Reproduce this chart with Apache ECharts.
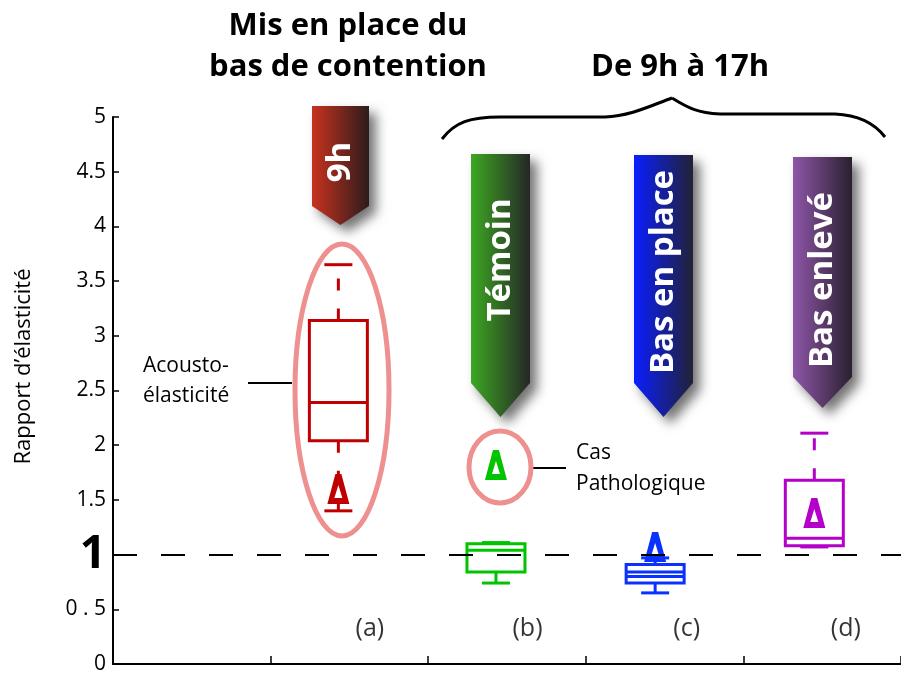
<!DOCTYPE html>
<html>
<head>
<meta charset="utf-8">
<script src="https://cdn.jsdelivr.net/npm/echarts@6/dist/echarts.min.js"></script>
<style>
html, body { margin: 0; padding: 0; background: #fff; }
#main { width: 901px; height: 675px; }
</style>
</head>
<body>
<div id="main"></div>
<script>
// donnees
var groupLabels = ['(a)', '(b)', '(c)', '(d)'];
var boxX = [1.43, 2.43, 3.44, 4.45];
var whiskerLow = [1.40, 0.74, 0.65, 1.07];
var q1 = [2.04, 0.84, 0.74, 1.08];
var median = [2.39, 1.04, 0.84, 1.15];
var q3 = [3.14, 1.10, 0.91, 1.68];
var whiskerHigh = [3.65, 1.11, 0.97, 2.11];
var innerLine = [null, null, 0.80, null];
var deltaX = [1.43, 2.43, 3.44, 4.45];
var deltaY = [1.60, 1.82, 1.07, 1.38];
var boxColors = ['#c00000', '#00c400', '#0a32ff', '#b400c8'];
var refLine = 1;

var FONT = 'Open Sans';

var boxData = boxX.map(function (x, i) {
    return [x, whiskerLow[i], q1[i], median[i], q3[i], whiskerHigh[i], innerLine[i] == null ? '-' : innerLine[i]];
});
var deltaData = deltaX.map(function (x, i) {
    return { value: [x, deltaY[i]], itemStyle: { color: boxColors[i] } };
});
var labelData = boxX.map(function (x, i) {
    return { value: [x + 0.2, 0.32], name: groupLabels[i] };
});

function renderBox(params, api) {
    var i = params.dataIndex;
    var c = boxColors[i];
    var x = api.value(0);
    var cx = api.coord([x, 0])[0];
    var y = function (k) { return api.coord([x, api.value(k)])[1]; };
    var yLow = y(1), yQ1 = y(2), yMed = y(3), yQ3 = y(4), yHigh = y(5);
    var half = 29, cap = 14;
    var solid = { stroke: c, lineWidth: 3, fill: null };
    var dashed = { stroke: c, lineWidth: 3, lineDash: [12, 18], fill: null };
    var children = [
        { type: 'line', shape: { x1: cx, y1: yQ3, x2: cx, y2: yHigh }, style: dashed },
        { type: 'line', shape: { x1: cx, y1: yQ1, x2: cx, y2: yLow }, style: dashed },
        { type: 'line', shape: { x1: cx - cap, y1: yHigh, x2: cx + cap, y2: yHigh }, style: solid },
        { type: 'line', shape: { x1: cx - cap, y1: yLow, x2: cx + cap, y2: yLow }, style: solid },
        { type: 'rect', shape: { x: cx - half, y: yQ3, width: half * 2, height: yQ1 - yQ3 }, style: solid },
        { type: 'line', shape: { x1: cx - half, y1: yMed, x2: cx + half, y2: yMed }, style: solid }
    ];
    var v6 = api.value(6);
    if (!isNaN(v6)) {
        var yIn = api.coord([x, v6])[1];
        children.push({ type: 'line', shape: { x1: cx - half, y1: yIn, x2: cx + half, y2: yIn }, style: solid });
    }
    return { type: 'group', children: children };
}

function flag(x0, top, w, body, tip, c1, c2, text, textY) {
    return {
        type: 'group',
        children: [
            {
                type: 'polygon',
                shape: { points: [[x0, top], [x0 + w, top], [x0 + w, body], [x0 + w / 2, tip], [x0, body]] },
                style: {
                    fill: new echarts.graphic.LinearGradient(0, 0, 1, 0, [
                        { offset: 0, color: c1 }, { offset: 1, color: c2 }
                    ]),
                    shadowBlur: 12, shadowColor: 'rgba(0,0,0,0.55)', shadowOffsetX: 7, shadowOffsetY: 7
                }
            },
            {
                type: 'text',
                x: x0 + w / 2, y: textY, rotation: Math.PI / 2,
                style: {
                    text: text, fill: '#fff', font: 'bold 33px "' + FONT + '"',
                    textAlign: 'center', textVerticalAlign: 'middle'
                }
            }
        ]
    };
}

function label(x, y, txt, size, bold, align) {
    return {
        type: 'text', x: x, y: y,
        style: {
            text: txt, font: (bold ? 'bold ' : '') + size + 'px "' + FONT + '"', fill: '#000',
            textAlign: align || 'left', textVerticalAlign: 'middle'
        }
    };
}

var pink = '#ee9090';

var myChart = echarts.init(document.getElementById('main'));
var option = {
    animation: false,
    grid: { left: 113, right: -7, top: 117, bottom: 11 },
    xAxis: {
        type: 'value', min: 0, max: 5, interval: 1,
        axisLine: { lineStyle: { color: '#000', width: 2 } },
        axisTick: { inside: true, length: 8, lineStyle: { color: '#000', width: 1.5 } },
        axisLabel: { show: false },
        splitLine: { show: false }
    },
    yAxis: {
        type: 'value', min: 0, max: 5, interval: 0.5,
        name: 'Rapport d\u2019\u00e9lasticit\u00e9',
        nameLocation: 'middle', nameGap: 78, nameRotate: 90,
        nameTextStyle: { fontFamily: FONT, fontSize: 22, color: '#000', padding: [0, 0, 0, 48] },
        axisLine: { lineStyle: { color: '#000', width: 2 } },
        axisTick: { inside: true, length: 6, lineStyle: { color: '#000', width: 1.5 } },
        axisLabel: {
            fontFamily: FONT, fontSize: 21, color: '#000', margin: 7,
            formatter: function (v) {
                if (v === 1) return '{big|1}';
                if (v === 0.5) return '0 . 5';
                return String(v);
            },
            rich: { big: { fontFamily: FONT, fontSize: 46, fontWeight: 'bold', color: '#000' } }
        },
        splitLine: { show: false }
    },
    series: [
        {
            type: 'custom',
            renderItem: renderBox,
            data: boxData,
            encode: { x: 0, y: [1, 2, 3, 4, 5] },
            z: 3
        },
        {
            type: 'scatter',
            data: deltaData,
            symbol: 'path://M8,0 L14,0 L22,30 L0,30 Z M11,11 L7,24 L15,24 Z',
            symbolSize: [22, 30],
            itemStyle: { opacity: 1 },
            z: 4
        },
        {
            type: 'scatter',
            data: labelData,
            symbolSize: 0,
            label: {
                show: true, position: 'inside', formatter: '{b}',
                fontFamily: FONT, fontSize: 25, color: '#000'
            },
            z: 4
        },
        {
            type: 'line',
            data: [],
            markLine: {
                silent: true, symbol: 'none',
                label: { show: false },
                lineStyle: { color: '#000', width: 2, type: [24, 24] },
                data: [{ yAxis: refLine }]
            },
            z: 5
        }
    ],
    graphic: [
        label(348, 26, 'Mis en place du', 31, true, 'center'),
        label(348, 67, 'bas de contention', 31, true, 'center'),
        label(680, 67, 'De 9h \u00e0 17h', 31, true, 'center'),
        // accolade
        { type: 'bezierCurve', shape: { x1: 442, y1: 139, cpx1: 455, cpy1: 122, cpx2: 470, cpy2: 117, x2: 500, y2: 117 }, style: { stroke: '#000', lineWidth: 3, fill: null } },
        { type: 'line', shape: { x1: 500, y1: 117, x2: 605, y2: 117 }, style: { stroke: '#000', lineWidth: 3 } },
        { type: 'bezierCurve', shape: { x1: 605, y1: 117, cpx1: 630, cpy1: 116, cpx2: 650, cpy2: 106, x2: 672, y2: 98 }, style: { stroke: '#000', lineWidth: 3, fill: null } },
        { type: 'bezierCurve', shape: { x1: 672, y1: 98, cpx1: 688, cpy1: 108, cpx2: 698, cpy2: 113, x2: 720, y2: 114 }, style: { stroke: '#000', lineWidth: 3, fill: null } },
        { type: 'line', shape: { x1: 720, y1: 114, x2: 835, y2: 114 }, style: { stroke: '#000', lineWidth: 3 } },
        { type: 'bezierCurve', shape: { x1: 835, y1: 114, cpx1: 860, cpy1: 115, cpx2: 875, cpy2: 124, x2: 885, y2: 137 }, style: { stroke: '#000', lineWidth: 3, fill: null } },
        // fanions
        flag(312, 106, 57, 206, 225, '#c8321e', '#2c1c1c', '9h', 162),
        flag(471, 154, 59, 383, 417, '#3ca822', '#262626', 'T\u00e9moin', 260),
        flag(634, 155, 59, 383, 417, '#0a1eff', '#222236', 'Bas en place', 272),
        flag(793, 157, 59, 377, 408, '#8e56a8', '#2a2030', 'Bas enlev\u00e9', 280),
        // ellipses
        { type: 'ellipse', shape: { cx: 342, cy: 390, rx: 47, ry: 146 }, style: { stroke: pink, lineWidth: 5, fill: null }, z: 10 },
        { type: 'ellipse', shape: { cx: 500, cy: 467, rx: 31, ry: 36 }, style: { stroke: pink, lineWidth: 5, fill: null }, z: 10 },
        // annotations
        { type: 'line', shape: { x1: 248, y1: 383, x2: 292, y2: 383 }, style: { stroke: '#000', lineWidth: 2 } },
        label(143, 366, 'Acousto-', 21),
        label(143, 396, '\u00e9lasticit\u00e9', 21),
        { type: 'line', shape: { x1: 532, y1: 468, x2: 566, y2: 468 }, style: { stroke: '#000', lineWidth: 2 } },
        label(576, 453, 'Cas', 21),
        label(576, 484, 'Pathologique', 21)
    ]
};
myChart.setOption(option, true);
</script>
</body>
</html>
